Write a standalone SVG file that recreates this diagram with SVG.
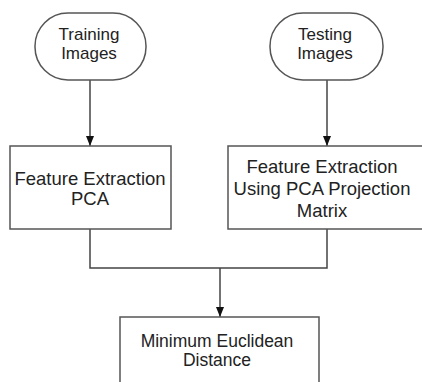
<svg xmlns="http://www.w3.org/2000/svg" width="422" height="382" viewBox="0 0 422 382">
  <defs>
    <marker id="arrow" markerUnits="userSpaceOnUse" markerWidth="10" markerHeight="10" viewBox="0 0 10 10" refX="10" refY="5" orient="auto">
      <path d="M0,1 L10,5 L0,9 Z" fill="#111"/>
    </marker>
    <style>
      .shape { fill: #ffffff; stroke: #555555; stroke-width: 1.5; }
      .conn { fill: none; stroke: #444444; stroke-width: 1.5; }
      .lbl { font-family: "Liberation Sans", Arial, sans-serif; fill: #222222; text-anchor: middle; }
      .t17 { font-size: 17px; }
      .t18 { font-size: 18.5px; }
      .t175 { font-size: 17.5px; }
    </style>
  </defs>
  <rect width="422" height="382" fill="#ffffff"/>

  <g id="connectors">
    <line class="conn" x1="90" y1="80" x2="90" y2="146" marker-end="url(#arrow)"/>
    <line class="conn" x1="327" y1="80" x2="327" y2="146" marker-end="url(#arrow)"/>
    <polyline class="conn" points="90,229 90,268 327,268 327,229"/>
    <line class="conn" x1="220" y1="268" x2="220" y2="317" marker-end="url(#arrow)"/>
  </g>

  <g id="training-images">
    <rect class="shape" x="35" y="13" width="111" height="67" rx="33" ry="33"/>
    <text class="lbl t17" x="89" y="40">Training</text>
    <text class="lbl t17" x="89" y="59">Images</text>
  </g>

  <g id="testing-images">
    <rect class="shape" x="270" y="13" width="113" height="67" rx="33" ry="33"/>
    <text class="lbl t17" x="325" y="40">Testing</text>
    <text class="lbl t17" x="325" y="59">Images</text>
  </g>

  <g id="feature-extraction-pca">
    <rect class="shape" x="10" y="146" width="161" height="83"/>
    <text class="lbl t18" x="90" y="185">Feature Extraction</text>
    <text class="lbl t18" x="90" y="205">PCA</text>
  </g>

  <g id="feature-extraction-projection">
    <rect class="shape" x="228" y="146" width="200" height="83"/>
    <text class="lbl t18" x="322" y="173">Feature Extraction</text>
    <text class="lbl t18" x="322" y="195">Using PCA Projection</text>
    <text class="lbl t18" x="322" y="217">Matrix</text>
  </g>

  <g id="minimum-euclidean-distance">
    <rect class="shape" x="120" y="317" width="199" height="80"/>
    <text class="lbl t175" x="217" y="347">Minimum Euclidean</text>
    <text class="lbl t175" x="217" y="366">Distance</text>
  </g>
</svg>
